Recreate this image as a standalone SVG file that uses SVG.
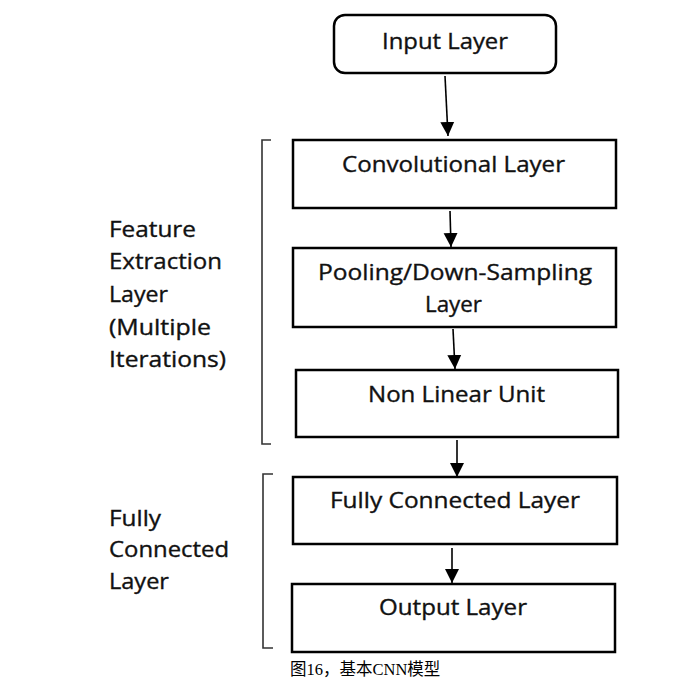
<svg xmlns="http://www.w3.org/2000/svg" width="685" height="684" viewBox="0 0 685 684">
<style>
.box{fill:#fff;stroke:#000;stroke-width:2.5}
.lbl{font-family:"Open Sans","DejaVu Sans",sans-serif;font-size:21px;fill:#111;stroke:#111;stroke-width:0.35}
.conn{stroke:#000;stroke-width:1.6;fill:none}
.br{stroke:#333;stroke-width:1.6;fill:none}
.cap{font-family:"Liberation Serif","Noto Sans CJK SC",serif;font-size:16.5px;fill:#000}
</style>
<defs>
<marker id="ah" markerUnits="userSpaceOnUse" markerWidth="16" markerHeight="16" viewBox="0 0 16 16" refX="14" refY="8" orient="auto">
<path d="M0,1 L14,8 L0,15 Z" fill="#000"/>
</marker>
</defs>
<rect width="685" height="684" fill="#fff"/>
<g id="brackets">
<path class="br" d="M271,140 H262 V444 H271"/>
<path class="br" d="M273,474 H263 V648 H273"/>
</g>
<g id="connectors">
<line class="conn" x1="445" y1="76" x2="448" y2="136" marker-end="url(#ah)"/>
<line class="conn" x1="450" y1="211" x2="451" y2="247" marker-end="url(#ah)"/>
<line class="conn" x1="453" y1="329" x2="455" y2="369" marker-end="url(#ah)"/>
<line class="conn" x1="457" y1="440" x2="457" y2="477" marker-end="url(#ah)"/>
<line class="conn" x1="452" y1="548" x2="452" y2="583" marker-end="url(#ah)"/>
</g>
<g id="input">
<rect class="box" x="334" y="15" width="222" height="58" rx="11"/>
<text class="lbl" x="382" y="49" textLength="126" lengthAdjust="spacingAndGlyphs">Input Layer</text>
</g>
<g id="conv">
<rect class="box" x="293" y="140" width="323" height="68"/>
<text class="lbl" x="342" y="172" textLength="223" lengthAdjust="spacingAndGlyphs">Convolutional Layer</text>
</g>
<g id="pool">
<rect class="box" x="293" y="248" width="323" height="79"/>
<text class="lbl" x="318" y="280" textLength="274" lengthAdjust="spacingAndGlyphs">Pooling/Down-Sampling</text>
<text class="lbl" x="425" y="312" textLength="57" lengthAdjust="spacingAndGlyphs">Layer</text>
</g>
<g id="nonlinear">
<rect class="box" x="296" y="370" width="322" height="67"/>
<text class="lbl" x="368" y="402" textLength="177" lengthAdjust="spacingAndGlyphs">Non Linear Unit</text>
</g>
<g id="fc">
<rect class="box" x="293" y="477" width="324" height="67"/>
<text class="lbl" x="330" y="508" textLength="250" lengthAdjust="spacingAndGlyphs">Fully Connected Layer</text>
</g>
<g id="output">
<rect class="box" x="292" y="584" width="323" height="68"/>
<text class="lbl" x="379" y="615" textLength="148" lengthAdjust="spacingAndGlyphs">Output Layer</text>
</g>
<g id="feature-label">
<text class="lbl" x="109" y="237" textLength="87" lengthAdjust="spacingAndGlyphs">Feature</text>
<text class="lbl" x="109" y="269" textLength="113" lengthAdjust="spacingAndGlyphs">Extraction</text>
<text class="lbl" x="109" y="302" textLength="59" lengthAdjust="spacingAndGlyphs">Layer</text>
<text class="lbl" x="109" y="335" textLength="102" lengthAdjust="spacingAndGlyphs">(Multiple</text>
<text class="lbl" x="109" y="367" textLength="117" lengthAdjust="spacingAndGlyphs">Iterations)</text>
</g>
<g id="fc-label">
<text class="lbl" x="109" y="526" textLength="52" lengthAdjust="spacingAndGlyphs">Fully</text>
<text class="lbl" x="109" y="557" textLength="120" lengthAdjust="spacingAndGlyphs">Connected</text>
<text class="lbl" x="109" y="589" textLength="60" lengthAdjust="spacingAndGlyphs">Layer</text>
</g>
<text class="cap" x="290" y="675">图16，基本CNN模型</text>
</svg>
